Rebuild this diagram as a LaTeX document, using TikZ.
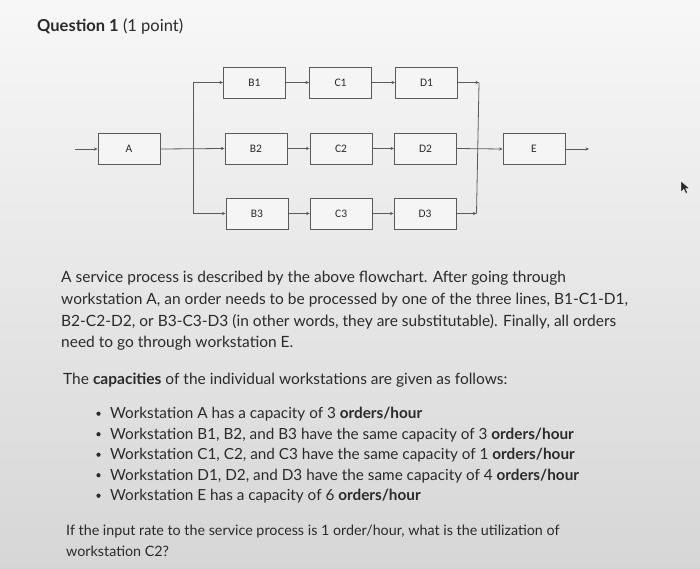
\documentclass[tikz,border=0pt]{standalone}
\usepackage{fontspec}
\setmainfont{Lato}
\newfontfamily\boxfont{Carlito}
\usetikzlibrary{arrows.meta}
\definecolor{ink}{HTML}{2A2A2A}
\definecolor{boxline}{HTML}{5A5A5A}
\tikzset{
  wsbox/.style={draw=boxline, line width=0.9pt, fill=white!92!gray, minimum width=62pt, minimum height=31pt, inner sep=0pt, font=\boxfont\fontsize{11.5}{13}\selectfont, text=ink},
  flow/.style={draw=boxline, line width=0.8pt, -{Stealth[length=3.5pt,width=3.2pt]}},
  plain/.style={draw=boxline, line width=0.8pt},
  txt/.style={anchor=base west, inner sep=0pt, text=ink, font=\fontsize{15.5}{18}\selectfont},
  btxt/.style={anchor=base west, inner sep=0pt, text=ink, font=\fontsize{15.3}{18}\selectfont},
  rtxt/.style={anchor=base west, inner sep=0pt, text=ink, font=\fontsize{14.3}{17}\selectfont},
}
\begin{document}
\begin{tikzpicture}[x=1pt,y=-1pt]
\shade[top color=white!94!gray, bottom color=gray!32] (0,0) rectangle (700,568);
\useasboundingbox (0,0) rectangle (700,568);

\node[anchor=base west, inner sep=0pt, text=ink, font=\fontsize{16.5}{19}\selectfont] (title) at (37,31) {\textbf{Question 1} (1 point)};

% boxes
\node[wsbox] (A)  at (129,149) {A};
\node[wsbox] (B1) at (254.5,82.5) {B1};
\node[wsbox] (B2) at (256,148.5) {B2};
\node[wsbox] (B3) at (257,213.5) {B3};
\node[wsbox] (C1) at (340.5,82.5) {C1};
\node[wsbox] (C2) at (341,148.5) {C2};
\node[wsbox] (C3) at (341.2,213.5) {C3};
\node[wsbox] (D1) at (426.5,82.5) {D1};
\node[wsbox] (D2) at (425.5,148.5) {D2};
\node[wsbox] (D3) at (425,213.5) {D3};
\node[wsbox] (E)  at (534,149) {E};

\coordinate (in) at (75,149);
\coordinate (s1) at (193,82.5);
\coordinate (s3) at (193,213.5);
\coordinate (m1) at (479,82.5);
\coordinate (m3) at (476.5,213.5);
\coordinate (out) at (589,149);

\draw[flow] (in) -- (A.west);
\draw[flow] (A.east) -- (B2.west);
\draw[plain] (s1) -- (s3);
\draw[flow] (s1) -- (B1.west);
\draw[flow] (s3) -- (B3.west);
\draw[flow] (B1) -- (C1);
\draw[flow] (B2) -- (C2);
\draw[flow] (B3) -- (C3);
\draw[flow] (C1) -- (D1);
\draw[flow] (C2) -- (D2);
\draw[flow] (C3) -- (D3);
\draw[flow] (D1.east) -- (m1);
\draw[flow] (D3.east) -- (m3);
\draw[plain] (m1) -- (m3);
\draw[flow] (D2.east) -- (E.west);
\draw[flow] (E.east) -- (out);

% cursor
\filldraw[fill=ink, draw=white, line width=0.4pt, shift={(681,181)}]
  (0,0) -- (0,11) -- (2.8,8.4) -- (4.8,12.6) -- (6.6,11.8) -- (4.6,7.6) -- (8.4,7.4) -- cycle;

% paragraph
\node[txt] (p1) at (61,282) {A service process is described by the above flowchart. After going through};
\node[txt] (p2) at (61,304) {workstation A, an order needs to be processed by one of the three lines, B1-C1-D1,};
\node[txt] (p3) at (61,326) {B2-C2-D2, or B3-C3-D3 (in other words, they are substitutable). Finally, all orders};
\node[txt] (p4) at (61,347.5) {need to go through workstation E.};

\node[txt] (q) at (63,384) {The \textbf{capacities} of the individual workstations are given as follows:};

\foreach \y/\t [count=\i] in {
  418.5/{Workstation A has a capacity of 3 \textbf{orders/hour}},
  439/{Workstation B1, B2, and B3 have the same capacity of 3 \textbf{orders/hour}},
  459.5/{Workstation C1, C2, and C3 have the same capacity of 1 \textbf{orders/hour}},
  480/{Workstation D1, D2, and D3 have the same capacity of 4 \textbf{orders/hour}},
  500.5/{Workstation E has a capacity of 6 \textbf{orders/hour}}} {
  \node[btxt] (bl\i) at (110,\y) {\t};
  \fill[ink] (98.5,\y-4.8) circle (2.1pt);
}

\node[rtxt] (r1) at (66,535.5) {If the input rate to the service process is 1 order/hour, what is the utilization of};
\node[rtxt] (r2) at (66,556) {workstation C2?};
\end{tikzpicture}
\end{document}
